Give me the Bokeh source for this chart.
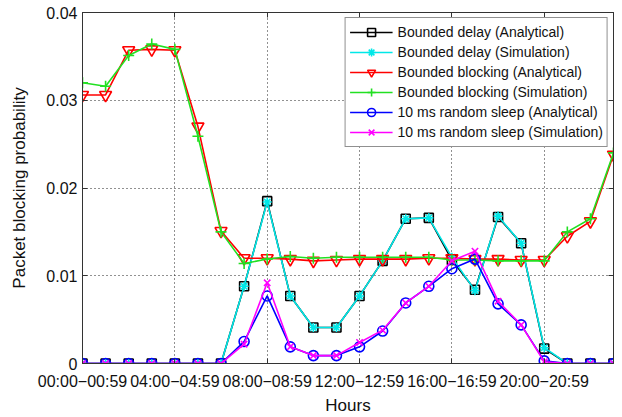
from bokeh.plotting import figure
from bokeh.models import Range1d, FixedTicker, LinearAxis, Legend, LegendItem, CustomJSTickFormatter
from bokeh.embed import file_html
from bokeh.resources import INLINE

hours = list(range(24))
x_tick_pos = [0, 4, 8, 12, 16, 20]
x_tick_labels = ["00:00−00:59", "04:00−04:59", "08:00−08:59",
                 "12:00−12:59", "16:00−16:59", "20:00−20:59"]
y_ticks = [0, 0.01, 0.02, 0.03, 0.04]

delay_analytical = [0, 0, 0, 0, 0, 0, 0, 0.0088, 0.0185, 0.0077, 0.0041, 0.0041,
                    0.0077, 0.0117, 0.0165, 0.0166, 0.0118, 0.0084, 0.0167, 0.0137,
                    0.0017, 0, 0, 0]
delay_simulation = [0, 0, 0, 0, 0, 0, 0, 0.0088, 0.0184, 0.0077, 0.0041, 0.0041,
                    0.0077, 0.0117, 0.0165, 0.0166, 0.0121, 0.0083, 0.0168, 0.0137,
                    0.0018, 0, 0, 0]
blocking_analytical = [0.0306, 0.0306, 0.0357, 0.0358, 0.0357, 0.0270, 0.0151, 0.0120,
                       0.0120, 0.0119, 0.0117, 0.0118, 0.0119, 0.0119, 0.0119, 0.0120,
                       0.0120, 0.0119, 0.0119, 0.0118, 0.0118, 0.0145, 0.0162, 0.0238]
blocking_simulation = [0.0320, 0.0316, 0.0351, 0.0364, 0.0358, 0.0259, 0.0150, 0.0114,
                       0.0119, 0.0122, 0.0120, 0.0121, 0.0121, 0.0121, 0.0121, 0.0121,
                       0.0118, 0.0118, 0.0117, 0.0117, 0.0117, 0.0150, 0.0165, 0.0240]
sleep_analytical = [0, 0, 0, 0, 0, 0, 0, 0.0025, 0.0077, 0.0019, 0.0009, 0.0009,
                    0.0019, 0.0037, 0.0069, 0.0088, 0.0108, 0.0119, 0.0068, 0.0044,
                    0.0003, 0, 0, 0]
sleep_simulation = [0, 0, 0, 0, 0, 0, 0, 0.0022, 0.0092, 0.0019, 0.0009, 0.0009,
                    0.0024, 0.0038, 0.0069, 0.0088, 0.0117, 0.0128, 0.0071, 0.0044,
                    0.0002, 0, 0, 0]

series = [
    ("Bounded delay (Analytical)", delay_analytical, "#000000", "square", 9),
    ("Bounded delay (Simulation)", delay_simulation, "#00E8E8", "asterisk", 9),
    ("Bounded blocking (Analytical)", blocking_analytical, "#FF0000", "inverted_triangle", 12),
    ("Bounded blocking (Simulation)", blocking_simulation, "#22E022", "cross", 11),
    ("10 ms random sleep (Analytical)", sleep_analytical, "#0000FF", "circle", 10),
    ("10 ms random sleep (Simulation)", sleep_simulation, "#FF00FF", "x", 9),
]

FONT = "Liberation Sans"

p = figure(width=622, height=417, output_backend="svg", toolbar_location=None,
           x_range=Range1d(0, 23), y_range=Range1d(0, 0.04),
           min_border_left=82, min_border_right=9, min_border_top=12, min_border_bottom=50)
p.background_fill_color = "white"
p.border_fill_color = "white"
p.outline_line_color = "#333333"
p.outline_line_width = 1

p.xaxis.ticker = FixedTicker(ticks=x_tick_pos)
p.xaxis.major_label_overrides = {k: v for k, v in zip(x_tick_pos, x_tick_labels)}
p.yaxis.ticker = FixedTicker(ticks=y_ticks)
p.yaxis.formatter = CustomJSTickFormatter(code="return Math.abs(tick) < 1e-9 ? '0' : tick.toFixed(2);")

for ax in (p.xaxis[0], p.yaxis[0]):
    ax.major_tick_in = 5
    ax.major_tick_out = 0
    ax.minor_tick_line_color = None
    ax.axis_line_color = "#333333"
    ax.major_tick_line_color = "#333333"
    ax.major_label_text_font = FONT
    ax.major_label_text_font_size = "16px"
    ax.major_label_text_color = "#111111"
    ax.axis_label_text_font = FONT
    ax.axis_label_text_font_size = "17px"
    ax.axis_label_text_font_style = "normal"
    ax.axis_label_text_color = "#111111"

p.xaxis.axis_label = "Hours"
p.yaxis.axis_label = "Packet blocking probability"
p.xaxis.major_label_standoff = 9
p.xaxis.axis_label_standoff = 3
p.yaxis.major_label_standoff = 5
p.yaxis.axis_label_standoff = 14

top_ax = LinearAxis(ticker=FixedTicker(ticks=x_tick_pos), major_label_text_font_size="2px",
                    major_label_text_color=None,
                    major_tick_in=5, major_tick_out=0, minor_tick_line_color=None,
                    major_label_standoff=0, axis_line_color="#333333",
                    major_tick_line_color="#333333")
right_ax = LinearAxis(ticker=FixedTicker(ticks=y_ticks), major_label_text_font_size="2px",
                      major_label_text_color=None,
                      major_tick_in=5, major_tick_out=0, minor_tick_line_color=None,
                      major_label_standoff=0, axis_line_color="#333333",
                      major_tick_line_color="#333333")
p.add_layout(top_ax, "above")
p.add_layout(right_ax, "right")

p.grid.grid_line_color = "#222222"
p.grid.grid_line_dash = "1 3"
p.grid.grid_line_width = 1

items = []
for label, vals, color, marker, size in series:
    ln = p.line(hours, vals, line_color=color, line_width=1.6)
    sc = p.scatter(hours, vals, marker=marker, size=size, line_color=color,
                   fill_color=None, line_width=1.6)
    items.append(LegendItem(label=label, renderers=[ln, sc]))

legend = Legend(items=items, location="top_right")
legend.margin = 5
legend.padding = 4
legend.spacing = 0
legend.glyph_width = 43
legend.glyph_height = 20
legend.label_height = 20
legend.label_standoff = 5
legend.label_text_font = FONT
legend.label_text_font_size = "14px"
legend.label_text_color = "#111111"
legend.border_line_color = "#222222"
legend.border_line_width = 1
legend.background_fill_color = "white"
legend.background_fill_alpha = 1
p.add_layout(legend)

open("out.html", "w").write(file_html(p, INLINE))
